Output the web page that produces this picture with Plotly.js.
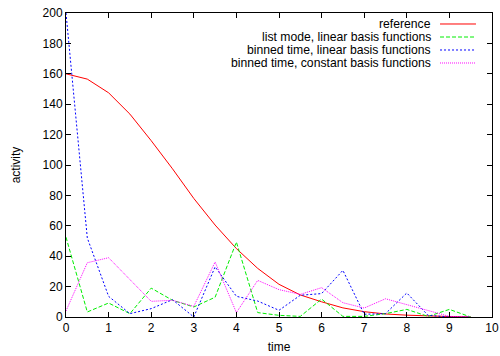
<!DOCTYPE html>
<html>
<head>
<meta charset="utf-8">
<script src="https://cdn.plot.ly/plotly-3.0.1.min.js"></script>
<style>html,body{margin:0;padding:0;background:#fff;}#chart{width:500px;height:356px;}</style>
</head>
<body>
<div id="chart"></div>
<script>
const time = [0,0.5,1,1.5,2,2.5,3,3.5,4,4.5,5,5.5,6,6.5,7,7.5,8,8.5,9,9.5];
const seriesNames = ["reference","list mode, linear basis functions","binned time, linear basis functions","binned time, constant basis functions"];
const reference = [160,156.5,147.5,133.5,116,97.5,78,60.5,45,32,21.5,14.5,10,6,3.5,2,1.2,0.6,0.3,0.1];
const listModeLinear = [52.5,3.3,9.2,2.2,19,11,6.6,13,49.3,2.9,1.1,0.4,11.8,0.4,0.4,2.2,5,0.4,5,0];
const binnedLinear = [200,52,13.6,2.2,5.5,11.4,0,33,13.6,10.5,4.4,14.3,15.4,30.7,1.8,2.2,15.8,1.1,0,0];
const binnedConstant = [4,35.7,39,24.6,10.3,11,7,36.2,2.9,24.1,18,14.9,19.3,9.4,5.9,12,8.3,4.4,0.4,0];
const xTicks = [0,1,2,3,4,5,6,7,8,9,10];
const yTicks = [0,20,40,60,80,100,120,140,160,180,200];

const colors = ["#ff0000","#00ee00","#0000ff","#ff00ff"];
const dashes = ["solid","4px,2px","2px,2px","1px,1px"];
const ys = [reference, listModeLinear, binnedLinear, binnedConstant];

const traces = ys.map((y,i)=>({
  x: time, y: y, type: "scatter", mode: "lines", name: seriesNames[i],
  line: {color: colors[i], width: 1, dash: dashes[i]}, showlegend: false
}));

const rowY = [0.96382,0.92105,0.87829,0.83553];
const annotations = seriesNames.map((n,i)=>({
  xref:"paper", yref:"paper", x:0.859, y:rowY[i], xanchor:"right", yanchor:"middle",
  text:n, showarrow:false, borderpad:0,
  font:{family:"Liberation Sans, Arial, sans-serif", size:12.2, color:"#000"}
}));
const shapes = seriesNames.map((n,i)=>({
  type:"line", xref:"paper", yref:"paper", x0:0.878, x1:0.9624, y0:rowY[i], y1:rowY[i],
  line:{color:colors[i], width:1, dash:dashes[i]}
}));

const axisCommon = {
  showgrid:false, zeroline:false, showline:true, mirror:"ticks", linecolor:"#000", linewidth:1,
  ticks:"inside", ticklen:5, tickcolor:"#000", tickwidth:1,
  tickfont:{family:"Liberation Sans, Arial, sans-serif", size:12, color:"#000"}
};

const layout = {
  width:500, height:356,
  margin:{l:66, r:8, t:13, b:39},
  paper_bgcolor:"#fff", plot_bgcolor:"#fff",
  font:{family:"Liberation Sans, Arial, sans-serif", size:12, color:"#000"},
  xaxis: Object.assign({}, axisCommon, {range:[0,10], tickvals:xTicks, ticktext:xTicks.map(String),
    title:{text:"time", font:{size:12}, standoff:8}}),
  yaxis: Object.assign({}, axisCommon, {range:[0,200], tickvals:yTicks, ticktext:yTicks.map(String),
    title:{text:"activity", font:{size:12}, standoff:19}}),
  annotations: annotations,
  shapes: shapes
};

Plotly.newPlot("chart", traces, layout, {displayModeBar:false, staticPlot:true});
</script>
</body>
</html>
